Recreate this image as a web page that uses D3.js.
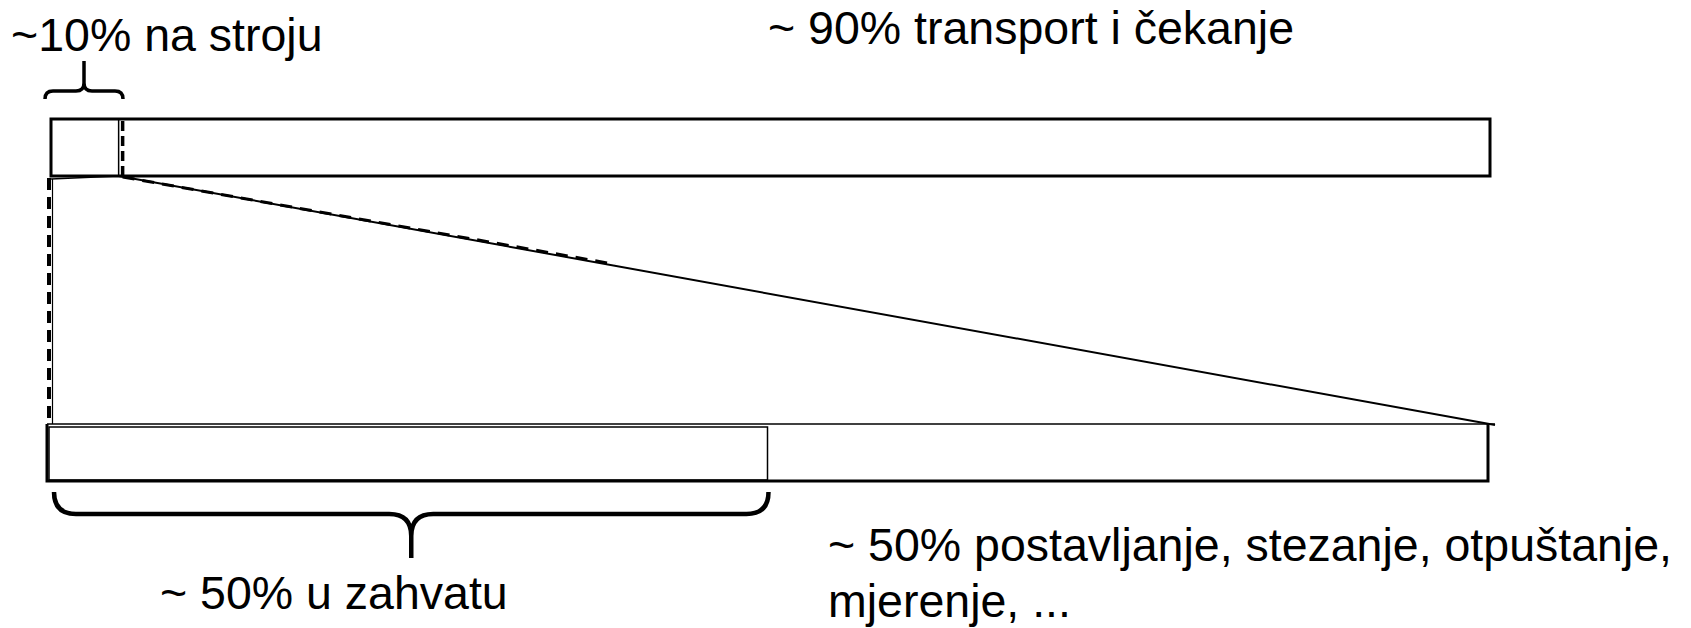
<!DOCTYPE html>
<html>
<head>
<meta charset="utf-8">
<script src="https://cdn.jsdelivr.net/npm/d3@7"></script>
<style>
    body { margin: 0; background: #fff; }
    text { font-family: "Liberation Sans", Arial, sans-serif; font-size: 46.5px; fill: #000; }
</style>
</head>
<body>
<div id="chart"></div>
<script>
// shares as drawn in the picture (top one is not to scale)
const topParts = ["na stroju", "transport i čekanje"];
const topShares = [4.7, 95.3];
const bottomParts = ["u zahvatu", "postavljanje, stezanje, otpuštanje, mjerenje"];
const bottomShares = [50, 50];
const topLabels = ["~10% na stroju", "~ 90% transport i čekanje"];
const bottomLabels = ["~ 50% u zahvatu", "~ 50% postavljanje, stezanje, otpuštanje,", "mjerenje, ..."];

const width = 1691;
const height = 628;

const svg = d3.select("#chart")
    .append("svg")
    .attr("width", width)
    .attr("height", height);

const xTop = d3.scaleLinear().domain([0, 100]).range([51, 1490]);
const xBot = d3.scaleLinear().domain([0, 100]).range([47, 1488]);

const topY = 119, topH = 57;
const botY = 424, botH = 57;

function stack(shares) {
    let acc = 0;
    return shares.map(v => { const s = acc; acc += v; return { start: s, end: acc }; });
}
const topSeg = stack(topShares);
const botSeg = stack(bottomShares);

// curly brace between x0 and x1, tip goes toward yTip
function brace(x0, x1, yEnd, yMid, yTip, r) {
    const cx = (x0 + x1) / 2;
    const d = Math.sign(yTip - yMid);
    return `M${x0},${yEnd} Q${x0},${yMid} ${x0 + r},${yMid} L${cx - r},${yMid} Q${cx},${yMid} ${cx},${yMid + d * r} L${cx},${yTip}` +
        ` M${x1},${yEnd} Q${x1},${yMid} ${x1 - r},${yMid} L${cx + r},${yMid} Q${cx},${yMid} ${cx},${yMid + d * r}`;
}

// connecting lines
const machineEnd = xTop(topSeg[0].end);
svg.append("line")
    .attr("x1", xTop(0)).attr("y1", topY + topH + 3)
    .attr("x2", machineEnd).attr("y2", topY + topH)
    .attr("stroke", "#000").attr("stroke-width", 1.5);

svg.append("line")
    .attr("x1", machineEnd).attr("y1", topY + topH)
    .attr("x2", xBot(100) + 7).attr("y2", botY + 1)
    .attr("stroke", "#000").attr("stroke-width", 2);

// dashed copy along the first part of the diagonal
const slope = (botY + 1 - (topY + topH)) / (xBot(100) + 7 - machineEnd);
svg.append("line")
    .attr("x1", machineEnd + 4).attr("y1", topY + topH + 1)
    .attr("x2", 615).attr("y2", topY + topH + (615 - machineEnd) * slope - 1.5)
    .attr("stroke", "#000").attr("stroke-width", 3)
    .attr("stroke-dasharray", "12,8");

svg.append("line")
    .attr("x1", xTop(0) - 2).attr("y1", topY + topH + 2)
    .attr("x2", xTop(0) - 2).attr("y2", botY)
    .attr("stroke", "#000").attr("stroke-width", 4)
    .attr("stroke-dasharray", "12,7");
svg.append("line")
    .attr("x1", xTop(0) + 1.5).attr("y1", topY + topH + 3)
    .attr("x2", xTop(0) + 1.5).attr("y2", botY)
    .attr("stroke", "#000").attr("stroke-width", 1.2);

// top bar
svg.append("rect")
    .attr("x", xTop(0)).attr("y", topY)
    .attr("width", xTop(100) - xTop(0)).attr("height", topH)
    .attr("fill", "none").attr("stroke", "#000").attr("stroke-width", 3);

svg.append("line")
    .attr("x1", machineEnd).attr("y1", topY)
    .attr("x2", machineEnd).attr("y2", topY + topH)
    .attr("stroke", "#000").attr("stroke-width", 1.5);
svg.append("line")
    .attr("x1", machineEnd + 4).attr("y1", topY + 2)
    .attr("x2", machineEnd + 4).attr("y2", topY + topH)
    .attr("stroke", "#000").attr("stroke-width", 3.5)
    .attr("stroke-dasharray", "10,5");

// bottom bar: thick sides, thin top
svg.append("path")
    .attr("d", `M${xBot(0)},${botY} L${xBot(0)},${botY + botH} L${xBot(100)},${botY + botH} L${xBot(100)},${botY}`)
    .attr("fill", "none").attr("stroke", "#000").attr("stroke-width", 3);
svg.append("line")
    .attr("x1", xBot(0)).attr("y1", botY)
    .attr("x2", xBot(100) + 7).attr("y2", botY)
    .attr("stroke", "#000").attr("stroke-width", 1.5);

svg.append("rect")
    .attr("x", xBot(botSeg[0].start) + 2).attr("y", botY + 3)
    .attr("width", xBot(botSeg[0].end) - xBot(botSeg[0].start) - 2).attr("height", botH - 4)
    .attr("fill", "none").attr("stroke", "#000").attr("stroke-width", 1.5);

// braces
svg.append("path")
    .attr("d", brace(45, 123, 99, 91, 61, 8))
    .attr("fill", "none").attr("stroke", "#000").attr("stroke-width", 3.5);

svg.append("path")
    .attr("d", brace(xBot(botSeg[0].start) + 7, xBot(botSeg[0].end) + 1, 492, 514, 558, 22))
    .attr("fill", "none").attr("stroke", "#000").attr("stroke-width", 4.5);

// labels
svg.append("text").attr("x", 11).attr("y", 51).text(topLabels[0]);
svg.append("text").attr("x", 768).attr("y", 44).text(topLabels[1]);
svg.append("text").attr("x", 160).attr("y", 609).text(bottomLabels[0]);
svg.append("text").attr("x", 828).attr("y", 561).text(bottomLabels[1]);
svg.append("text").attr("x", 828).attr("y", 617).text(bottomLabels[2]);
</script>
</body>
</html>
